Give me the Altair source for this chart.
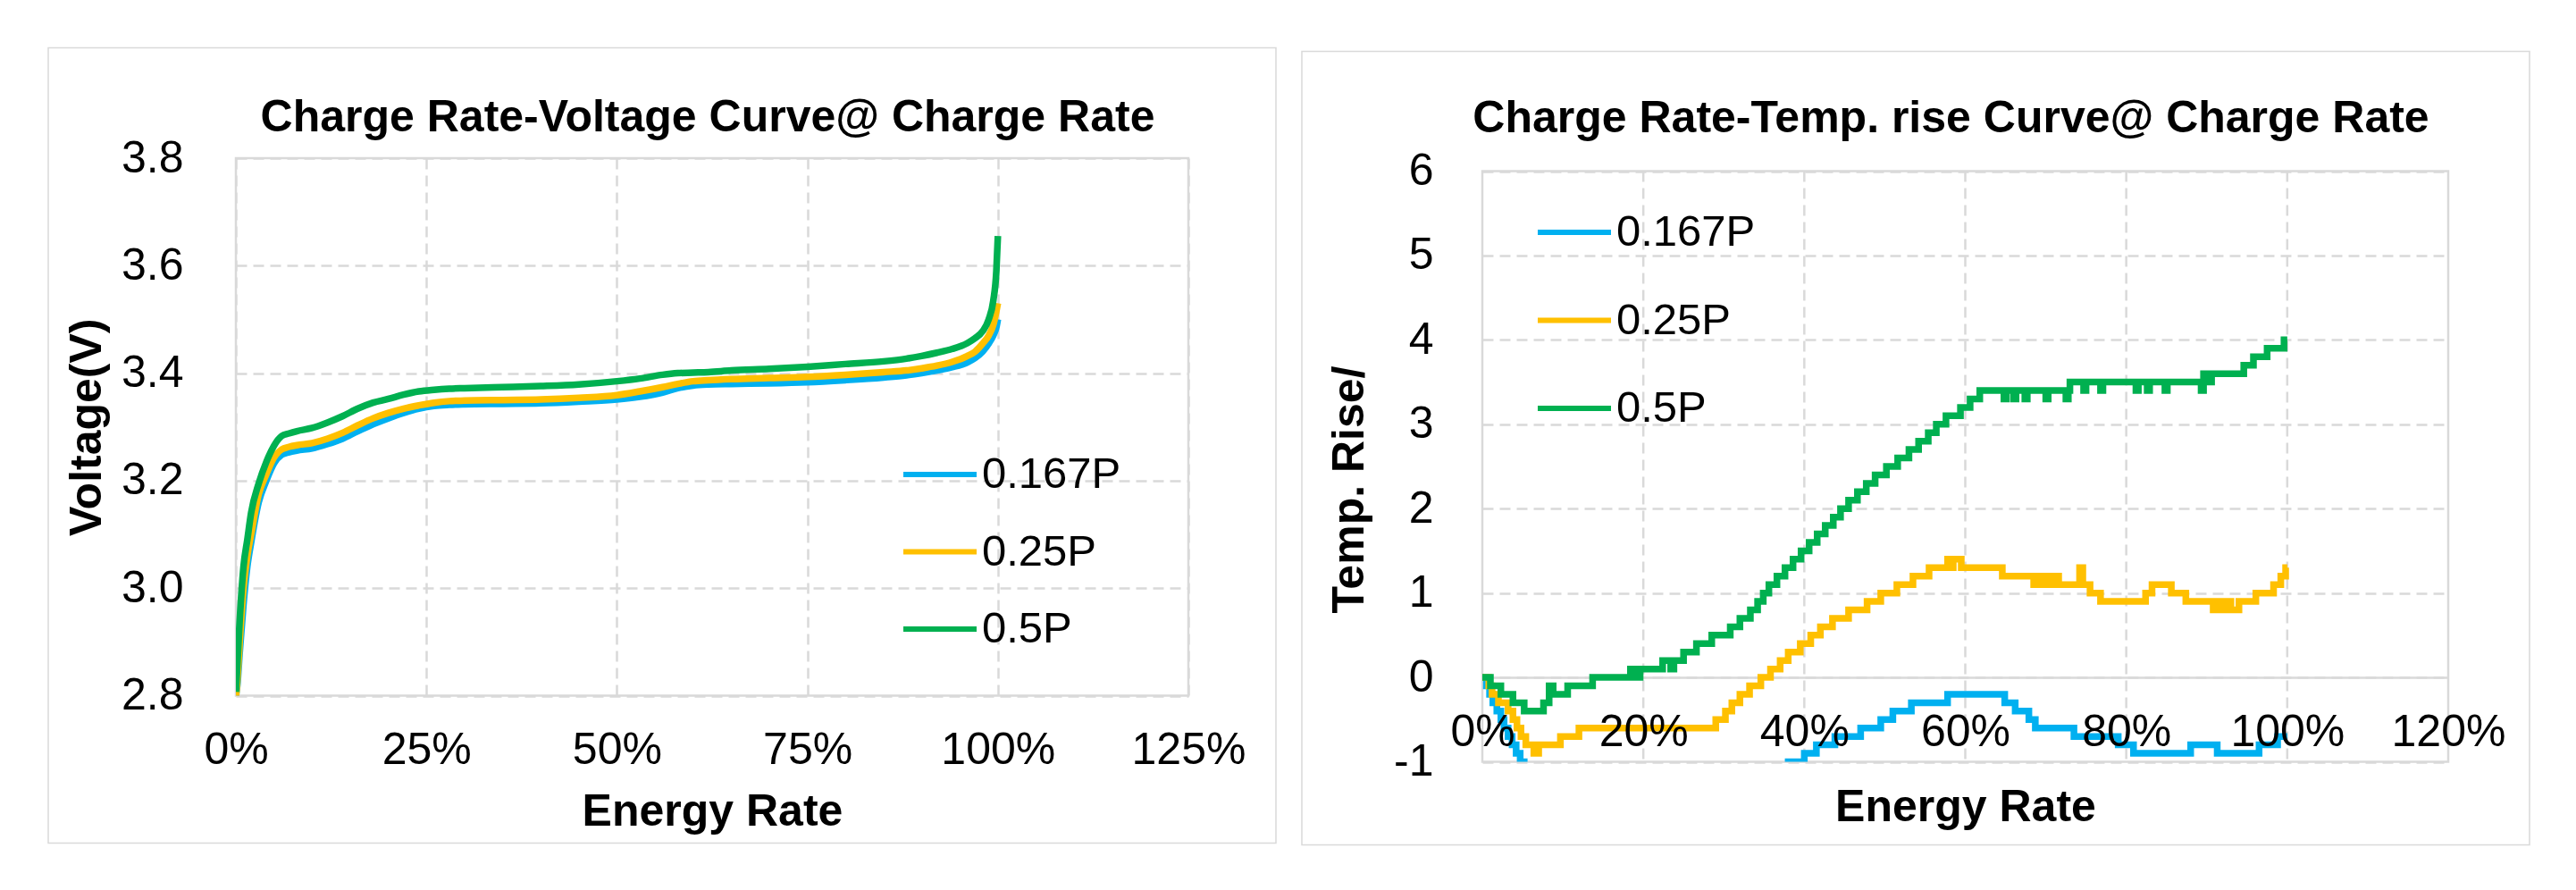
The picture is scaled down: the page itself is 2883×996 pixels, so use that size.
import altair as alt
import pandas as pd

SERIES = ["0.167P", "0.25P", "0.5P"]
COLORS = ["#00B0F0", "#FFC000", "#00B050"]

# ---------------- Voltage curve (left) ----------------
v_x = [0, 0.2, 0.5, 1, 1.5, 2, 3, 4, 5, 6, 7, 8, 10, 12, 14, 16, 18, 20, 22, 24, 26, 28, 30,
       35, 40, 45, 50, 53, 56, 58, 60, 62, 65, 70, 75, 80, 85, 88, 90, 92, 94, 96, 97, 98,
       98.8, 99.4, 99.8, 100]
v_0167 = [2.80, 2.82, 2.88, 2.97, 3.04, 3.085, 3.16, 3.20, 3.232, 3.248, 3.253, 3.256, 3.26,
          3.268, 3.278, 3.292, 3.305, 3.316, 3.326, 3.334, 3.339, 3.341, 3.342, 3.343, 3.344,
          3.347, 3.351, 3.356, 3.364, 3.372, 3.377, 3.379, 3.380, 3.381, 3.383, 3.387, 3.392,
          3.396, 3.400, 3.405, 3.411, 3.420, 3.428, 3.440, 3.455, 3.470, 3.485, 3.50]
v_025 = [2.795, 2.83, 2.90, 3.0, 3.06, 3.10, 3.175, 3.212, 3.243, 3.258, 3.263, 3.266, 3.27,
         3.278, 3.289, 3.303, 3.316, 3.326, 3.334, 3.340, 3.345, 3.348, 3.349, 3.350, 3.351,
         3.354, 3.359, 3.366, 3.374, 3.380, 3.385, 3.387, 3.389, 3.391, 3.393, 3.397, 3.402,
         3.405, 3.409, 3.414, 3.421, 3.432, 3.440, 3.455, 3.470, 3.490, 3.515, 3.53]
v_05 = [2.807, 2.86, 2.94, 3.04, 3.09, 3.14, 3.195, 3.235, 3.265, 3.283, 3.288, 3.292, 3.298,
        3.308, 3.320, 3.334, 3.345, 3.352, 3.360, 3.366, 3.369, 3.371, 3.372, 3.374, 3.376,
        3.379, 3.385, 3.390, 3.397, 3.400, 3.401, 3.402, 3.405, 3.408, 3.412, 3.417, 3.422,
        3.427, 3.432, 3.438, 3.445, 3.456, 3.465, 3.478, 3.500, 3.535, 3.590, 3.655]

# ---------------- Temperature rise (right) ----------------
t_x_0167 = [0, 0.5, 0.9, 1.3, 1.8, 2.3, 2.7, 3.2, 3.7, 4.2, 4.7, 5.2, 6, 8, 33, 36, 37.5, 38,
            40, 41.5, 43.8, 47, 49.5, 51, 53.3, 57.8, 64.9, 66.2, 67.9, 68.7, 73.5, 79, 80.9,
            88, 91.3, 96.5, 98.8, 100]
t_y_0167 = [0, -0.1, -0.2, -0.3, -0.4, -0.5, -0.6, -0.7, -0.8, -0.9, -1.0, -1.1, -1.2, -1.3,
            -1.3, -1.2, -1.1, -1.0, -0.9, -0.8, -0.7, -0.6, -0.5, -0.4, -0.3, -0.2, -0.3, -0.4,
            -0.5, -0.6, -0.7, -0.8, -0.9, -0.8, -0.9, -0.8, -0.7, -0.7]

t_x_025 = [0, 0.8, 1.2, 2, 3.2, 3.8, 4.3, 4.8, 5.4, 6.4, 7, 9.7, 12, 29, 30.2, 31, 32, 33.2,
           34.6, 35.8, 37, 38, 39.5, 40.8, 42, 43.5, 45.5, 47.8, 49.5, 51.5, 53.5, 55.5, 57.8,
           58.2, 58.5, 59.5, 64.6, 68.5, 69, 69.4, 70, 70.5, 71, 71.6, 74.2, 74.6, 75.5, 76.8,
           82.4, 83.2, 85.6, 87.4, 90.8, 91.5, 91.9, 92.6, 93, 94, 96.1, 98.3, 99.2, 99.8, 100]
t_y_025 = [0, -0.1, -0.2, -0.3, -0.4, -0.5, -0.6, -0.7, -0.8, -0.9, -0.8, -0.7, -0.6, -0.5,
           -0.4, -0.3, -0.2, -0.1, 0, 0.1, 0.2, 0.3, 0.4, 0.5, 0.6, 0.7, 0.8, 0.9, 1.0, 1.1,
           1.2, 1.3, 1.4, 1.3, 1.4, 1.3, 1.2, 1.1, 1.2, 1.1, 1.2, 1.1, 1.2, 1.1, 1.3, 1.1, 1.0,
           0.9, 1.0, 1.1, 1.0, 0.9, 0.8, 0.9, 0.8, 0.9, 0.8, 0.9, 1.0, 1.1, 1.2, 1.3, 1.3]

t_x_05 = [0, 1, 2.3, 3.8, 5.2, 7.6, 8.3, 8.8, 10.6, 13.7, 18.4, 19.2, 19.6, 22.4, 23.4, 23.8,
          25, 26.6, 28.5, 30.8, 32, 33.3, 34.2, 34.9, 35.6, 36.6, 37.6, 38.6, 39.6, 40.6, 41.6,
          42.6, 43.6, 44.5, 45.5, 46.6, 47.7, 48.8, 50.2, 51.6, 53, 54.2, 55.4, 56.4, 57.6,
          59.4, 60.6, 61.8, 64.8, 65.1, 66, 66.3, 67.4, 67.7, 70, 70.3, 72.5, 72.8, 73, 74.7,
          75, 76.8, 77.1, 81.2, 81.5, 82.6, 82.9, 84.8, 85.1, 89.3, 89.6, 90.3, 90.6, 94.6,
          95.8, 97.5, 99.6, 100]
t_y_05 = [0, -0.1, -0.2, -0.3, -0.4, -0.3, -0.1, -0.2, -0.1, 0, 0.1, 0, 0.1, 0.2, 0.1, 0.2,
          0.3, 0.4, 0.5, 0.6, 0.7, 0.8, 0.9, 1.0, 1.1, 1.2, 1.3, 1.4, 1.5, 1.6, 1.7, 1.8, 1.9,
          2.0, 2.1, 2.2, 2.3, 2.4, 2.5, 2.6, 2.7, 2.8, 2.9, 3.0, 3.1, 3.2, 3.3, 3.4, 3.3, 3.4,
          3.3, 3.4, 3.3, 3.4, 3.3, 3.4, 3.3, 3.4, 3.5, 3.4, 3.5, 3.4, 3.5, 3.4, 3.5, 3.4, 3.5,
          3.4, 3.5, 3.4, 3.6, 3.5, 3.6, 3.7, 3.8, 3.9, 4.0, 4.0]

# axis ticks / ranges
v_xticks = [0, 0.25, 0.5, 0.75, 1.0, 1.25]
v_yticks = [2.8, 3.0, 3.2, 3.4, 3.6, 3.8]
t_xticks = [0, 0.2, 0.4, 0.6, 0.8, 1.0, 1.2]
t_yticks = [-1, 0, 1, 2, 3, 4, 5, 6]

rows = []
for name, ys in zip(SERIES, [v_0167, v_025, v_05]):
    for x, y in zip(v_x, ys):
        rows.append({"energy": x / 100, "value": y, "series": name})
volt_df = pd.DataFrame(rows)

rows = []
for name, xs, ys in zip(SERIES, [t_x_0167, t_x_025, t_x_05], [t_y_0167, t_y_025, t_y_05]):
    for x, y in zip(xs, ys):
        rows.append({"energy": x / 100, "value": y, "series": name})
temp_df = pd.DataFrame(rows)

one = pd.DataFrame({"k": [0]})
FONT = "Liberation Sans"
GRID = "#d9d9d9"

color_scale = alt.Scale(domain=SERIES, range=COLORS)
legend_common = dict(title=None, orient="none", symbolType="stroke", symbolStrokeWidth=6,
                     symbolSize=6724, labelFontSize=49, labelFont=FONT, labelColor="#000",
                     labelOffset=3, padding=0)

# ---------- left chart ----------
frame_left = alt.Chart(one).mark_rect(fillOpacity=0, stroke=GRID, strokeWidth=1.5, clip=False).encode(
    x=alt.value(-210), x2=alt.value(1164), y=alt.value(-123.5), y2=alt.value(766.5))

left_lines = alt.Chart(volt_df).mark_line(strokeWidth=7.5, interpolate="monotone", clip=True).encode(
    x=alt.X("energy:Q", scale=alt.Scale(domain=[0, 1.25], nice=False),
            axis=alt.Axis(values=v_xticks, format=".0%", title="Energy Rate",
                          labelPadding=76, labelBaseline="alphabetic", titleY=145,
                          titleBaseline="alphabetic")),
    y=alt.Y("value:Q", scale=alt.Scale(domain=[2.8, 3.8], nice=False, zero=False),
            axis=alt.Axis(values=v_yticks, format=".1f", title="Voltage(V)",
                          labelPadding=59, titleX=-152, titleBaseline="alphabetic")),
    color=alt.Color("series:N", scale=color_scale,
                    legend=alt.Legend(legendX=744, legendY=310, rowPadding=17.5, **legend_common)),
)

left = alt.layer(frame_left, left_lines).properties(
    width=1066, height=601.5,
    title=alt.TitleParams("Charge Rate-Voltage Curve@ Charge Rate", offset=-104.5, dx=-5))

# ---------- right chart ----------
# plot area extends 14.5 px above the "6" line so that both panels share a top origin
UNIT = 661 / 7.0
Y_TOP = 6 + 14.5 / UNIT

frame_right = alt.Chart(one).mark_rect(fillOpacity=0, stroke=GRID, strokeWidth=1.5, clip=False).encode(
    x=alt.value(-202), x2=alt.value(1172), y=alt.value(-119.5), y2=alt.value(768.5))

x_scale_r = alt.Scale(domain=[0, 1.2], nice=False)
y_scale_r = alt.Scale(domain=[-1, Y_TOP], nice=False, zero=False)
y_axis_r = alt.Axis(values=t_yticks, labelExpr="'' + datum.value",
                    title="Temp. Rise/", labelPadding=55, titleX=-134, titleY=370.5,
                    titleBaseline="alphabetic")

box_df = pd.DataFrame({"x0": [t_xticks[0]], "x1": [t_xticks[-1]],
                       "y0": [t_yticks[-1]], "y1": [t_yticks[0]]})
grid_df = pd.DataFrame({"energy": t_xticks[1:-1], "y0": t_yticks[-1], "y1": t_yticks[0]})

vgrid_right = alt.Chart(grid_df).mark_rule(stroke=GRID, strokeWidth=2.5, strokeDash=[12, 7]).encode(
    x=alt.X("energy:Q", scale=x_scale_r, axis=None),
    y=alt.Y("y0:Q", scale=y_scale_r, axis=y_axis_r),
    y2="y1:Q",
)

box_right = alt.Chart(box_df).mark_rect(fillOpacity=0, stroke=GRID, strokeWidth=2.5).encode(
    x=alt.X("x0:Q", scale=x_scale_r, axis=None),
    x2="x1:Q",
    y=alt.Y("y0:Q", scale=y_scale_r, axis=y_axis_r),
    y2="y1:Q",
)

right_lines = alt.Chart(temp_df).mark_line(strokeWidth=7.5, interpolate="step-after", clip=True).encode(
    x=alt.X("energy:Q", scale=x_scale_r,
            axis=alt.Axis(values=t_xticks, labels=False, title=None, orient="bottom", grid=False,
                          domain=True, domainColor=GRID, domainWidth=2.5, offset=-94.4, zindex=0)),
    y=alt.Y("value:Q", scale=y_scale_r, axis=y_axis_r),
    color=alt.Color("series:N", scale=color_scale,
                    legend=alt.Legend(legendX=59, legendY=39, rowPadding=29.5, **legend_common)),
)

right_labels = alt.Chart(temp_df).mark_line(strokeOpacity=0, clip=True).encode(
    x=alt.X("energy:Q", scale=x_scale_r,
            axis=alt.Axis(values=t_xticks, format=".0%", title="Energy Rate", orient="bottom",
                          grid=False, domain=False, offset=-94.4, zindex=1,
                          labelPadding=76.5, labelBaseline="alphabetic",
                          titleY=160, titleBaseline="alphabetic")),
    y=alt.Y("value:Q", scale=y_scale_r, axis=y_axis_r),
    detail="series:N",
)

right = alt.layer(frame_right, vgrid_right, box_right, right_lines, right_labels,
                  view=alt.ViewBackground(stroke="transparent")).resolve_axis(
    x="independent").properties(
    width=1081, height=675.5,
    title=alt.TitleParams("Charge Rate-Temp. rise Curve@ Charge Rate", offset=-101, dx=-16))

chart = alt.hconcat(left, right, spacing=25).resolve_scale(
    color="independent"
).properties(
    padding={"left": 44, "top": 43, "right": 0, "bottom": 0}
).configure_view(
    stroke=GRID, strokeWidth=2.5
).configure_axis(
    grid=True, gridColor=GRID, gridDash=[12, 7], gridWidth=2.5, domain=False, ticks=False,
    tickSize=0, labelFont=FONT, labelFontSize=50, labelColor="#000", titleFont=FONT,
    titleFontSize=50, titleFontWeight="bold", titleColor="#000", labelOverlap=False,
    labelFlush=False
).configure_title(
    font=FONT, fontSize=50, fontWeight="bold", color="#000", anchor="middle", frame="group",
    baseline="alphabetic"
)

chart.save("out.html", embed_options={"renderer": "svg", "actions": False})
